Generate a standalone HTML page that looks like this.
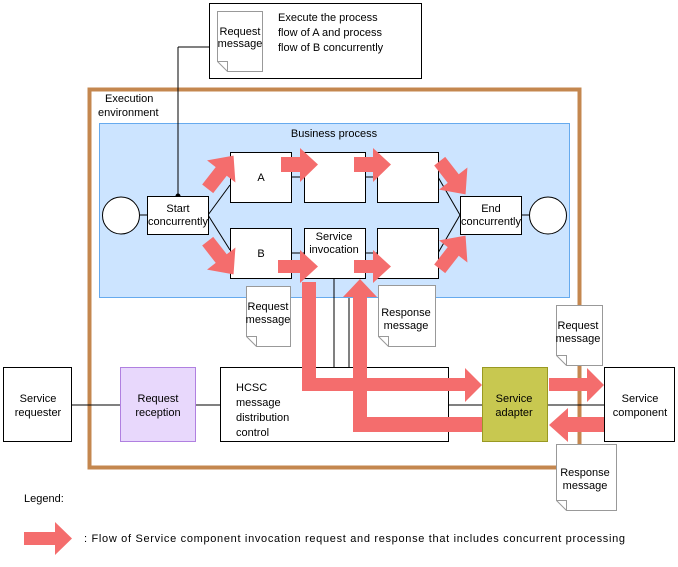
<!DOCTYPE html>
<html><head><meta charset="utf-8"><style>
html,body{margin:0;padding:0;background:#fff}
svg{display:block}
text{font-family:"Liberation Sans",Arial,sans-serif;font-size:11px;fill:#000}
</style></head><body>
<svg width="678" height="567" viewBox="0 0 678 567" xmlns="http://www.w3.org/2000/svg">
<defs>
<g id="doc"></g>
</defs>
<!-- top note -->
<rect x="209.5" y="3.5" width="212" height="75" fill="#fff" stroke="#000"/>
<path d="M217.5 11.5h45v60h-35l-10-10z" fill="#fff" stroke="#999"/>
<path d="M217.5 61.5l10 0 0 10" fill="none" stroke="#999"/>
<text x="240" y="35" text-anchor="middle" font-size="10">Request</text>
<text x="240" y="47" text-anchor="middle" font-size="10">message</text>
<text x="278" y="21">Execute the process</text>
<text x="278" y="36">flow of A  and process</text>
<text x="278" y="51">flow of B  concurrently</text>
<!-- brown env -->
<rect x="89.5" y="89.5" width="490" height="378" fill="none" stroke="#c4874f" stroke-width="4"/>
<text x="105" y="102">Execution</text>
<text x="98" y="116">environment</text>
<!-- business process -->
<rect x="99.5" y="123.5" width="470" height="174" fill="#cce4ff" stroke="#66aaee"/>
<text x="334" y="137" text-anchor="middle">Business process</text>
<line x1="178" y1="47" x2="209" y2="47" stroke="#000"/>
<line x1="178" y1="47" x2="178" y2="196" stroke="#000"/>
<circle cx="178" cy="196" r="2.5" fill="#000"/>
<!-- connectors -->
<g stroke="#000" fill="none">
<line x1="140" y1="215" x2="147" y2="215"/>
<line x1="521" y1="215" x2="529" y2="215"/>
<line x1="208" y1="215" x2="230" y2="185"/>
<line x1="208" y1="215" x2="230" y2="250"/>
<line x1="438" y1="177" x2="460" y2="215"/>
<line x1="438" y1="253" x2="460" y2="215"/>
<line x1="292" y1="177" x2="304" y2="177"/>
<line x1="365" y1="177" x2="377" y2="177"/>
<line x1="292" y1="253" x2="304" y2="253"/>
<line x1="365" y1="253" x2="377" y2="253"/>
<line x1="334" y1="278" x2="334" y2="367"/>
<line x1="349" y1="298" x2="349" y2="367"/>
<line x1="72" y1="405" x2="120" y2="405"/>
<line x1="195" y1="405" x2="220" y2="405"/>
<line x1="448" y1="405" x2="482" y2="405"/>
<line x1="547" y1="405" x2="604" y2="405"/>
</g>
<circle cx="121" cy="215.5" r="18.5" fill="#fff" stroke="#000"/>
<circle cx="548" cy="215.5" r="18.5" fill="#fff" stroke="#000"/>
<g fill="#fff" stroke="#000">
<rect x="147.5" y="196.5" width="61" height="38"/>
<rect x="460.5" y="196.5" width="61" height="38"/>
<rect x="230.5" y="152.5" width="61" height="50"/>
<rect x="304.5" y="152.5" width="61" height="50"/>
<rect x="377.5" y="152.5" width="61" height="50"/>
<rect x="230.5" y="228.5" width="61" height="50"/>
<rect x="304.5" y="228.5" width="61" height="50"/>
<rect x="377.5" y="228.5" width="61" height="50"/>
</g>
<text x="178" y="212" text-anchor="middle" font-size="10">Start</text>
<text x="178" y="225" text-anchor="middle" font-size="10">concurrently</text>
<text x="491" y="212" text-anchor="middle" font-size="10">End</text>
<text x="491" y="225" text-anchor="middle" font-size="10">concurrently</text>
<text x="261" y="181" text-anchor="middle">A</text>
<text x="261" y="257" text-anchor="middle">B</text>
<text x="334" y="240" text-anchor="middle" font-size="10">Service</text>
<text x="334" y="253" text-anchor="middle" font-size="10">invocation</text>
<!-- bottom row -->
<rect x="3.5" y="367.5" width="68" height="74" fill="#fff" stroke="#000"/>
<text x="38" y="402" text-anchor="middle">Service</text>
<text x="38" y="416" text-anchor="middle">requester</text>
<rect x="120.5" y="367.5" width="75" height="74" fill="#e8d8fc" stroke="#b080e0"/>
<text x="158" y="402" text-anchor="middle">Request</text>
<text x="158" y="416" text-anchor="middle">reception</text>
<rect x="220.5" y="367.5" width="228" height="74" fill="#fff" stroke="#000"/>
<text x="236" y="391">HCSC</text>
<text x="236" y="406">message</text>
<text x="236" y="421">distribution</text>
<text x="236" y="436">control</text>
<rect x="482.5" y="367.5" width="65" height="74" fill="#c8c850" stroke="#999922"/>
<text x="514" y="402" text-anchor="middle">Service</text>
<text x="514" y="416" text-anchor="middle">adapter</text>
<rect x="604.5" y="367.5" width="70" height="74" fill="#fff" stroke="#000"/>
<text x="640" y="402" text-anchor="middle">Service</text>
<text x="640" y="416" text-anchor="middle">component</text>
<!-- docs -->
<g fill="#fff" stroke="#999">
<path d="M246.5 286.5h44v60h-34l-10-10z"/><path d="M246.5 336.5h10v10" fill="none"/>
<path d="M378.5 285.5h57v61h-47l-10-10z"/><path d="M378.5 336.5h10v10" fill="none"/>
<path d="M556.5 305.5h46v60h-36l-10-10z"/><path d="M556.5 355.5h10v10" fill="none"/>
<path d="M556.5 444.5h60v66h-50l-10-10z"/><path d="M556.5 500.5h10v10" fill="none"/>
</g>
<text x="268" y="310" text-anchor="middle" font-size="10">Request</text>
<text x="268" y="323" text-anchor="middle" font-size="10">message</text>
<text x="406" y="316" text-anchor="middle" font-size="10">Response</text>
<text x="406" y="329" text-anchor="middle" font-size="10">message</text>
<text x="578" y="329" text-anchor="middle" font-size="10">Request</text>
<text x="578" y="342" text-anchor="middle" font-size="10">message</text>
<text x="585" y="476" text-anchor="middle" font-size="10">Response</text>
<text x="585" y="489" text-anchor="middle" font-size="10">message</text>
<!-- arrows -->
<g fill="#f46d6d">
<path d="M281 157h19v-9l18 16.5-18 17.5v-10h-19z"/>
<path d="M354 157h19v-9l18 16.5-18 17.5v-10h-19z"/>
<path d="M278 260h22v-10l18 16.5-18 16.5v-10h-22z"/>
<path d="M354 260h19v-10l18 16.5-18 16.5v-10h-19z"/>
<g transform="translate(220,173) rotate(-52)"><path d="M-20 -7h22v-11l20 18-20 18v-11h-22z"/></g>
<g transform="translate(220,257) rotate(52)"><path d="M-20 -7h22v-11l20 18-20 18v-11h-22z"/></g>
<g transform="translate(452,177) rotate(52)"><path d="M-20 -7h22v-11l20 18-20 18v-11h-22z"/></g>
<g transform="translate(452,253) rotate(-52)"><path d="M-20 -7h22v-11l20 18-20 18v-11h-22z"/></g>
<path d="M302 282h14v96h149v-10l17 17-17 17v-11h-163z"/>
<path d="M482 417v15h-129v-135h-10l17-18 17 18h-10v120h115z"/>
<path d="M549 378h38v-10l17 17-17 17v-11h-38z"/>
<path d="M604 417v15h-36v10l-19-17 19-17v9z"/>
<path d="M24 532h31v-10l17 16.5-17 16.5v-10h-31z"/>
</g>
<text x="24" y="502">Legend:</text>
<text x="84" y="542" textLength="541">: Flow of Service component invocation request and response that includes concurrent processing</text>
</svg>
</body></html>
